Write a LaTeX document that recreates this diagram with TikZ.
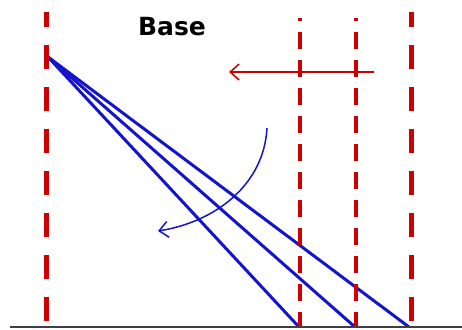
\documentclass[tikz,border=0pt]{standalone}
\usepackage{fontspec}
\newfontfamily\labelfont{DejaVu Sans}
\usetikzlibrary{arrows.meta}
\definecolor{wallcolor}{HTML}{CC0000}
\definecolor{raycolor}{HTML}{1414CC}
\definecolor{groundcolor}{HTML}{404040}

\begin{document}
\begin{tikzpicture}[
    x=1pt, y=-1pt,
    wall/.style={draw=wallcolor, line width=5pt,
                 dash pattern=on 24pt off 18pt, dash phase=9pt},
    front/.style={draw=wallcolor, line width=3.5pt,
                  dash pattern=on 17pt off 11pt, dash phase=14pt},
    ray/.style={draw=raycolor, line width=3pt},
    turn/.style={line width=1.5pt,
                 -{Straight Barb[length=9pt, width=16pt, line width=1.5pt]}}
]
    \useasboundingbox (0,0) rectangle (462,329);

    % rays
    \coordinate (src) at (48,57);
    \coordinate (r1) at (299,327);
    \coordinate (r2) at (355,327);
    \coordinate (r3) at (409,327);
    \draw[ray] (src) -- (r1);
    \draw[ray] (src) -- (r2);
    \draw[ray] (src) -- (r3);

    % walls and fronts
    \coordinate (wl-top) at (46,12);
    \coordinate (wl-bot) at (46,322);
    \coordinate (wr-top) at (411,12);
    \coordinate (wr-bot) at (411,322);
    \coordinate (f1-top) at (300,18);
    \coordinate (f1-bot) at (300,327);
    \coordinate (f2-top) at (356,18);
    \coordinate (f2-bot) at (356,327);
    \draw[wall] (wl-top) -- (wl-bot);
    \draw[wall] (wr-top) -- (wr-bot);
    \draw[front] (f1-top) -- (f1-bot);
    \draw[front] (f2-top) -- (f2-bot);

    % ground
    \coordinate (g-left) at (10,327);
    \coordinate (g-right) at (462,327);
    \draw[groundcolor, line width=2.5pt] (g-left) -- (g-right);

    % arrows
    \coordinate (move-from) at (374,72);
    \coordinate (move-to) at (229,72);
    \draw[turn, wallcolor] (move-from) -- (move-to);
    \coordinate (rot-from) at (267,128);
    \coordinate (rot-to) at (158,231);
    \draw[turn, raycolor] (rot-from) .. controls (264,185) and (215,222) .. (rot-to);

    \node[font=\labelfont\bfseries, scale=2.5, inner sep=0pt] (base) at (172,27) {Base};
\end{tikzpicture}
\end{document}
